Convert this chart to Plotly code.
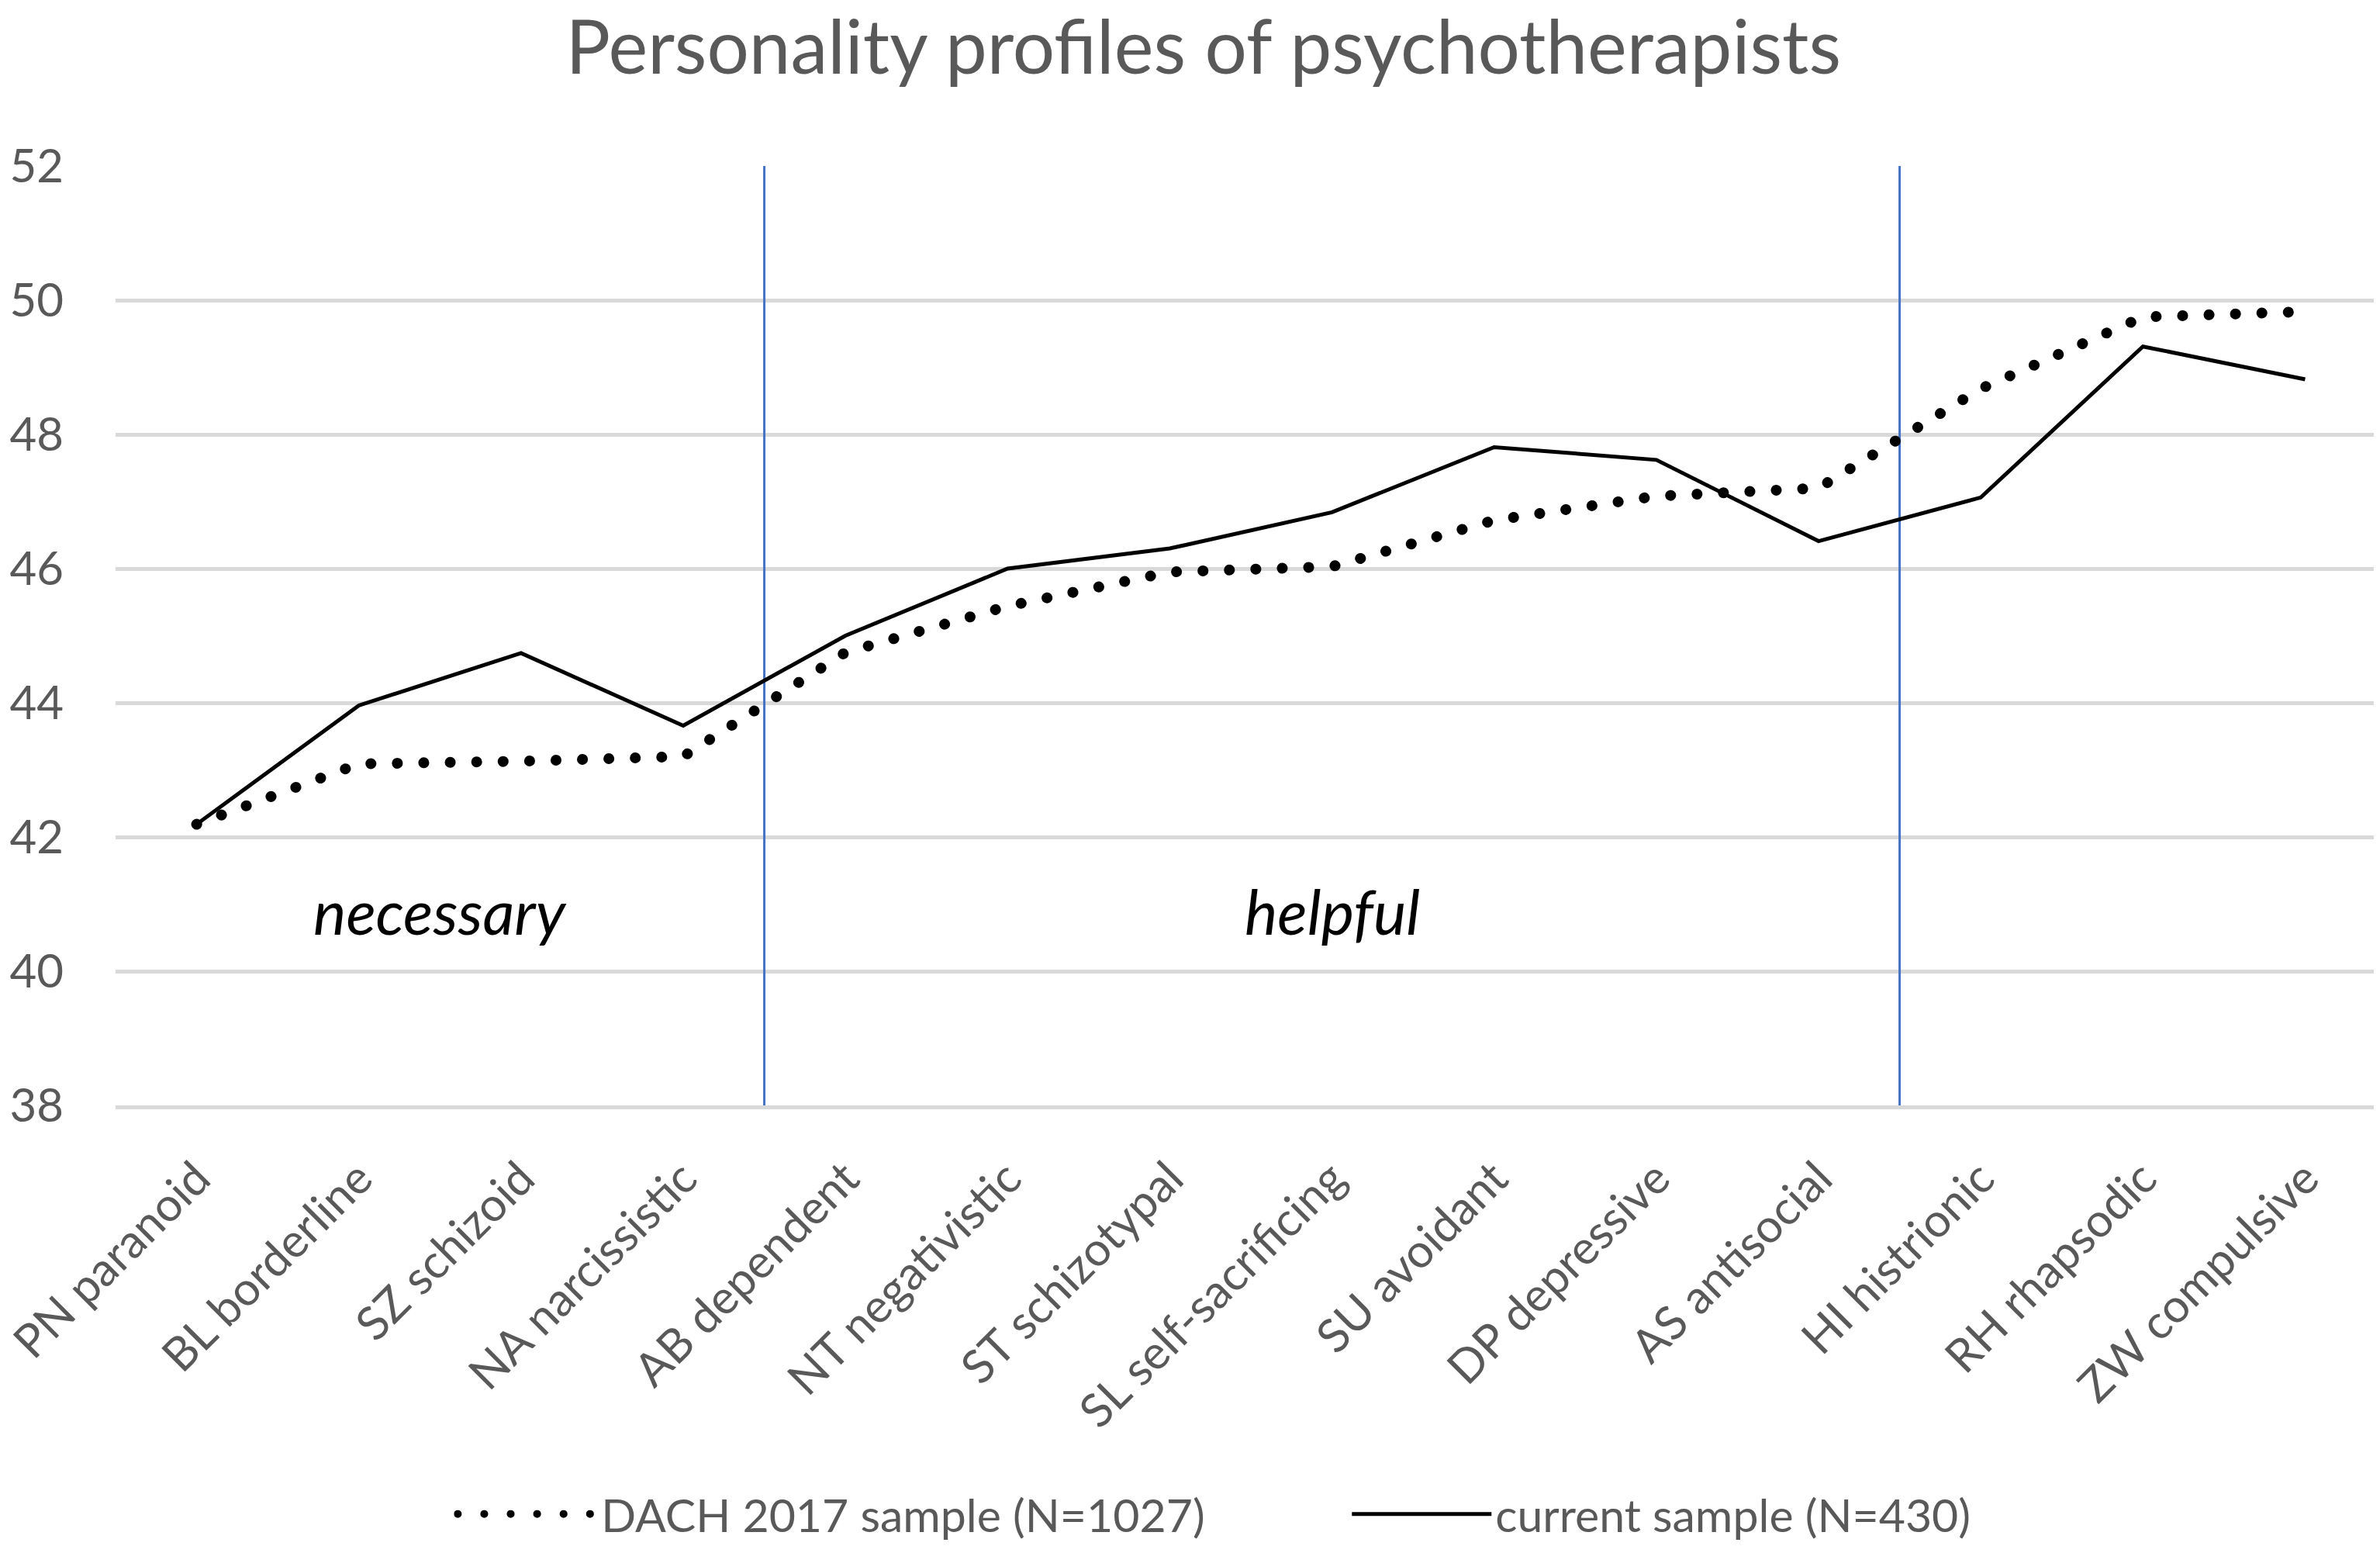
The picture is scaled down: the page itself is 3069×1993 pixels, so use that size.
import plotly.graph_objects as go

categories = ["PN paranoid", "BL borderline", "SZ schizoid", "NA narcissistic",
              "AB dependent", "NT negativistic", "ST schizotypal", "SL self-sacrificing",
              "SU avoidant", "DP depressive", "AS antisocial", "HI histrionic",
              "RH rhapsodic", "ZW compulsive"]
dach_2017 = [42.19, 43.09, 43.13, 43.20, 44.75, 45.44, 45.95, 46.03,
             46.72, 47.08, 47.20, 48.68, 49.75, 49.83]
current_sample = [42.19, 43.96, 44.74, 43.66, 45.00, 46.00, 46.30, 46.84,
                  47.81, 47.62, 46.41, 47.06, 49.31, 48.82]
group_labels = ["necessary", "helpful", ""]
group_sizes = [4, 7, 3]
y_ticks = [38, 40, 42, 44, 46, 48, 50, 52]

FONT = "Lato"
GREY = "#595959"

fig = go.Figure()
fig.add_trace(go.Scatter(
    x=categories, y=dach_2017, mode="lines", name="DACH 2017 sample (N=1027)",
    line=dict(color="black", width=14, dash="13px,21px")))
fig.add_trace(go.Scatter(
    x=categories, y=current_sample, mode="lines", name="current sample (N=430)",
    line=dict(color="black", width=5)))

# group separators and labels
start = 0
for i, (lab, size) in enumerate(zip(group_labels, group_sizes)):
    if lab:
        fig.add_annotation(x=start + (size - 1) / 2, y=40.9, xref="x", yref="y",
                           text=lab, showarrow=False,
                           font=dict(family=FONT, size=80, color="black", style="italic"))
    start += size
    if i < len(group_sizes) - 1:
        fig.add_shape(type="line", x0=start - 0.5, x1=start - 0.5, y0=38, y1=52,
                      xref="x", yref="y", layer="between",
                      line=dict(color="#4472C4", width=3))

fig.update_layout(
    width=3069, height=1993,
    margin=dict(l=141, r=0, t=206, b=576, autoexpand=False),
    plot_bgcolor="white", paper_bgcolor="white",
    title=dict(text="Personality profiles of psychotherapists", x=0.503, xanchor="center",
               xref="container", y=0.973, yref="container", yanchor="middle",
               font=dict(family=FONT, size=96, color=GREY)),
    xaxis=dict(range=[-0.5, len(categories) - 0.5], tickangle=-45, showgrid=False,
               showline=True, linecolor="#d9d9d9", linewidth=5, ticks="",
               tickfont=dict(family=FONT, size=60, color=GREY), ticklabelstandoff=30),
    yaxis=dict(range=[38, 52], tickvals=y_ticks, showgrid=True, gridcolor="#d9d9d9",
               gridwidth=5, zeroline=False, showline=False, ticks="",
               tickfont=dict(family=FONT, size=60, color=GREY), ticklabelstandoff=66),
    showlegend=True,
    legend=dict(orientation="h", x=0.149, xanchor="left", y=-0.435, yanchor="middle",
                font=dict(family=FONT, size=59, color=GREY), entrywidth=958,
                itemwidth=180),
)

post = """
function fixDots(){
  document.querySelectorAll('path').forEach(function(p){
    var da = p.style.strokeDasharray || '';
    if (da.indexOf('13px') === 0) {
      p.style.strokeLinecap = 'round';
      p.style.strokeDasharray = '0.1px, 34px';
    }
  });
}
fixDots();
setTimeout(fixDots, 300);
"""
fig.write_html("out.html", post_script=post)
